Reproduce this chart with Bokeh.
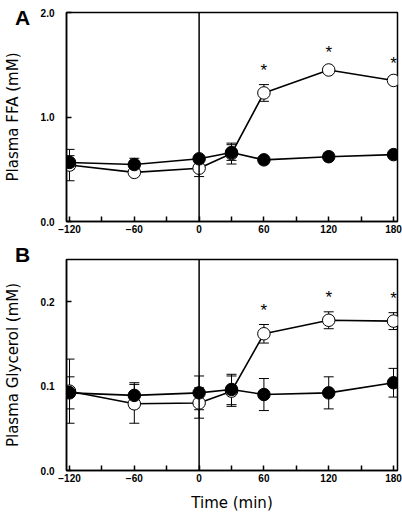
from bokeh.plotting import figure
from bokeh.layouts import column
from bokeh.models import (ColumnDataSource, Whisker, TeeHead, Span, FixedTicker,
                          NumeralTickFormatter, Range1d, Div)
from bokeh.core.properties import value
from bokeh.embed import file_html
from bokeh.resources import INLINE

# ---------------- data ----------------
time = [-120, -60, 0, 30, 60, 120, 180]
sig_times = [60, 120, 180]

ffa_open = [0.54, 0.47, 0.51, 0.65, 1.23, 1.45, 1.35]
ffa_open_err = [0.15, 0.03, 0.08, 0.10, 0.08, 0.03, 0.03]
ffa_filled = [0.565, 0.545, 0.60, 0.66, 0.59, 0.62, 0.64]
ffa_filled_err = [0.065, 0.06, 0.03, 0.075, 0.02, 0.02, 0.02]

gly_open = [0.094, 0.079, 0.080, 0.094, 0.162, 0.178, 0.177]
gly_open_err = [0.038, 0.023, 0.018, 0.018, 0.011, 0.010, 0.010]
gly_filled = [0.092, 0.089, 0.092, 0.096, 0.090, 0.092, 0.104]
gly_filled_err = [0.019, 0.015, 0.020, 0.018, 0.019, 0.019, 0.017]

x_major = [-120, -60, 0, 60, 120, 180]
x_minor = [-90, -30, 30, 90, 150]
ffa_ticks = [0.0, 1.0, 2.0]
gly_ticks = [0.0, 0.1, 0.2]

FONT = "Liberation Sans"
LFONT = "DejaVu Sans"

XR = (-122.8, 183.7)
BORDER_LEFT = 66


def make_panel(ylabel, yrange, yticks, opn, opn_err, fil, fil_err,
               height, border_top, border_bottom, show_xlabel):
    p = figure(width=402, height=height, output_backend="svg", toolbar_location=None,
               x_range=Range1d(*XR), y_range=Range1d(*yrange),
               min_border_left=BORDER_LEFT, min_border_right=5,
               min_border_top=border_top, min_border_bottom=border_bottom)
    p.xgrid.visible = False
    p.ygrid.visible = False
    p.outline_line_color = "black"
    p.outline_line_width = 1.5
    p.background_fill_color = "white"
    p.border_fill_color = "white"

    xa = p.xaxis[0]
    xa.ticker = FixedTicker(ticks=x_major, minor_ticks=x_minor)
    xa.major_tick_in = 5
    xa.major_tick_out = 0
    xa.minor_tick_in = 5
    xa.minor_tick_out = 0
    xa.axis_line_width = 1.5
    xa.major_tick_line_width = 1.5
    xa.minor_tick_line_width = 1.5
    xa.major_label_standoff = 3
    xa.major_label_text_font = FONT
    xa.major_label_text_font_style = "bold"
    xa.major_label_text_font_size = "10px"
    xa.major_label_text_color = "black"
    if show_xlabel:
        xa.axis_label = "Time (min)"
        xa.axis_label_text_font = LFONT
        xa.axis_label_text_font_style = "normal"
        xa.axis_label_text_font_size = "15px"
        xa.axis_label_text_color = "black"
        xa.axis_label_standoff = 9

    ya = p.yaxis[0]
    ya.ticker = FixedTicker(ticks=yticks, minor_ticks=[])
    ya.formatter = NumeralTickFormatter(format="0.0")
    ya.major_tick_in = 5
    ya.major_tick_out = 0
    ya.axis_line_width = 1.5
    ya.major_tick_line_width = 1.5
    ya.major_label_standoff = 12
    ya.major_label_text_font = FONT
    ya.major_label_text_font_style = "bold"
    ya.major_label_text_font_size = "10px"
    ya.major_label_text_color = "black"
    ya.axis_label = ylabel
    ya.axis_label_text_font = LFONT
    ya.axis_label_text_font_style = "normal"
    ya.axis_label_text_font_size = "15px"
    ya.axis_label_text_color = "black"
    ya.axis_label_standoff = 16

    p.add_layout(Span(location=0, dimension="height", line_color="black", line_width=1.5))

    so = ColumnDataSource(dict(x=time, y=opn,
                               lo=[v - e for v, e in zip(opn, opn_err)],
                               hi=[v + e for v, e in zip(opn, opn_err)]))
    sf = ColumnDataSource(dict(x=time, y=fil,
                               lo=[v - e for v, e in zip(fil, fil_err)],
                               hi=[v + e for v, e in zip(fil, fil_err)]))
    for s in (so, sf):
        w = Whisker(source=s, base="x", upper="hi", lower="lo", dimension="height",
                    line_color="black", line_width=1,
                    upper_head=TeeHead(size=10, line_color="black", line_width=1),
                    lower_head=TeeHead(size=10, line_color="black", line_width=1))
        p.add_layout(w)

    p.line("x", "y", source=so, line_color="black", line_width=1.6)
    p.line("x", "y", source=sf, line_color="black", line_width=1.6)
    p.scatter("x", "y", source=so, marker="circle", size=12.5, fill_color="white",
              line_color="black", line_width=1)
    p.scatter("x", "y", source=sf, marker="circle", size=12.5, fill_color="black",
              line_color="black", line_width=1)

    star_y = [opn[time.index(t)] + opn_err[time.index(t)] for t in sig_times]
    p.text(x=sig_times, y=star_y, text=["*"] * len(sig_times), y_offset=-14,
           text_align="center", text_baseline="middle", text_font=value(FONT),
           text_font_size="17px", text_color="black")
    return p


def letter_div(letter, left, top):
    return Div(text=letter, width=20, height=22,
               styles={"position": "absolute", "left": f"{left}px", "top": f"{top}px",
                       "z-index": "10", "font-family": FONT, "font-weight": "bold",
                       "font-size": "21px", "line-height": "21px", "color": "black"})


pA = make_panel("Plasma FFA (mM)", (0.0, 2.0), ffa_ticks,
                ffa_open, ffa_open_err, ffa_filled, ffa_filled_err,
                height=241, border_top=12, border_bottom=20, show_xlabel=False)
pB = make_panel("Plasma Glycerol (mM)", (0.0, 0.25), gly_ticks,
                gly_open, gly_open_err, gly_filled, gly_filled_err,
                height=273, border_top=18, border_bottom=43, show_xlabel=True)

layout = column(pA, pB, letter_div("A", 10, 2), letter_div("B", 10, 239), spacing=0)
open("out.html", "w").write(file_html(layout, INLINE))
